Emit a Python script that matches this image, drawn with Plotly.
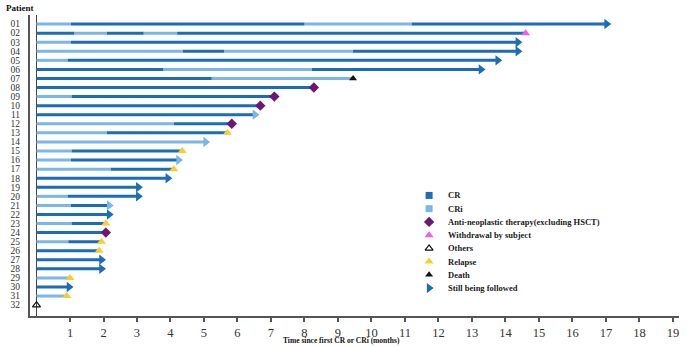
import plotly.graph_objects as go

patients = ["%02d" % i for i in range(1, 33)]

# breakpoints (months) and state of each segment: C = CR (dark), I = CRi (light)
bounds = [
    [0, 1.03, 8.0, 11.2, 17.15],
    [0, 1.12, 2.1, 3.2, 4.2, 14.6],
    [0, 1.03, 14.5],
    [0, 4.37, 5.6, 9.45, 14.5],
    [0, 0.93, 13.9],
    [0, 3.78, 8.22, 13.4],
    [0, 5.23, 9.45],
    [0, 8.28],
    [0, 1.05, 7.1],
    [0, 6.68],
    [0, 6.65],
    [0, 4.1, 5.83],
    [0, 2.1, 5.7],
    [0, 5.18],
    [0, 1.05, 4.35],
    [0, 1.03, 4.37],
    [0, 2.22, 4.1],
    [0, 4.05],
    [0, 3.17],
    [0, 0.93, 3.17],
    [0, 1.03, 2.3],
    [0, 2.3],
    [0, 1.05, 2.07],
    [0, 2.07],
    [0, 0.95, 1.94],
    [0, 1.87],
    [0, 2.07],
    [0, 2.07],
    [0, 1.0],
    [0, 1.1],
    [0, 0.9],
    [0],
]
states = ["ICIC", "CICIC", "IC", "ICIC", "IC", "CIC", "CI", "C", "IC", "C", "C", "IC", "IC", "I",
          "IC", "IC", "IC", "C", "C", "IC", "IC", "C", "IC", "C", "IC", "C", "C", "C", "I", "C", "I", ""]
# end events: F followed, W withdrawal, D death, A anti-neoplastic, R relapse, O others
events = ["F", "W", "F", "F", "F", "F", "D", "A", "A", "A", "F", "A", "R", "F", "R", "F",
          "R", "F", "F", "F", "F", "F", "R", "A", "R", "R", "F", "F", "R", "F", "R", "O"]
arrow_state = ["C", "", "C", "C", "C", "C", "", "", "", "", "I", "", "", "I", "", "I",
               "", "C", "C", "C", "I", "C", "", "", "", "", "C", "C", "", "C", "", ""]

legend_labels = ["CR", "CRi", "Anti-neoplastic therapy(excluding HSCT)", "Withdrawal by subject",
                 "Others", "Relapse", "Death", "Still being followed"]
x_ticks = list(range(1, 20))

DARK = "#1b6db6"
LIGHT = "#7ab6e6"
PURPLE = "#6c1676"
PINK = "#ec5fec"
YELLOW = "#f5cf2c"
BLACK = "#111111"
SERIF = "Liberation Serif"
ARROW_OFF = 0.13

fig = go.Figure()

seg = {"C": ([], []), "I": ([], [])}
for i, (b, s, ev) in enumerate(zip(bounds, states, events)):
    row = i + 1
    for k, st in enumerate(s):
        x0, x1 = b[k], b[k + 1]
        if ev == "F" and k == len(s) - 1:
            x1 = x1 - ARROW_OFF
        seg[st][0].extend([x0, x1, None])
        seg[st][1].extend([row, row, None])

fig.add_trace(go.Scatter(x=seg["I"][0], y=seg["I"][1], mode="lines",
                         line=dict(color=LIGHT, width=3), hoverinfo="skip", showlegend=False))
fig.add_trace(go.Scatter(x=seg["C"][0], y=seg["C"][1], mode="lines",
                         line=dict(color=DARK, width=3), hoverinfo="skip", showlegend=False))

styles = {
    "A": dict(symbol="diamond", color=PURPLE, size=8),
    "W": dict(symbol="triangle-up", color=PINK, size=8),
    "R": dict(symbol="triangle-up", color=YELLOW, size=8),
    "D": dict(symbol="triangle-up", color=BLACK, size=7),
    "O": dict(symbol="triangle-up-open", color=BLACK, size=7),
}
for code, st in styles.items():
    xs = [b[-1] for b, e in zip(bounds, events) if e == code]
    ys = [i + 1 for i, e in enumerate(events) if e == code]
    fig.add_trace(go.Scatter(x=xs, y=ys, mode="markers", hoverinfo="skip", showlegend=False,
                             marker=dict(symbol=st["symbol"], color=st["color"], size=st["size"],
                                         line=dict(width=1.2 if code == "O" else 0, color=st["color"]))))

for a_st, col in (("C", DARK), ("I", LIGHT)):
    xs = [b[-1] - ARROW_OFF for b, e, a in zip(bounds, events, arrow_state) if e == "F" and a == a_st]
    ys = [i + 1 for i, (e, a) in enumerate(zip(events, arrow_state)) if e == "F" and a == a_st]
    fig.add_trace(go.Scatter(x=xs, y=ys, mode="markers", hoverinfo="skip", showlegend=False,
                             marker=dict(symbol="triangle-right", color=col, size=9, line=dict(width=0))))

# legend drawn inside the plot area
leg_x = 11.72
leg_y0 = 19.9
leg_dy = 1.46
leg_syms = [("square", DARK, 7), ("square", LIGHT, 7), ("diamond", PURPLE, 8), ("triangle-up", PINK, 8),
            ("triangle-up-open", BLACK, 7), ("triangle-up", YELLOW, 8), ("triangle-up", BLACK, 7),
            ("triangle-right", DARK, 9)]
for k, (lab, (sym, col, sz)) in enumerate(zip(legend_labels, leg_syms)):
    yy = leg_y0 + k * leg_dy
    fig.add_trace(go.Scatter(x=[leg_x], y=[yy], mode="markers", hoverinfo="skip", showlegend=False,
                             marker=dict(symbol=sym, color=col, size=sz,
                                         line=dict(width=1.2 if "open" in sym else 0, color=col))))
    fig.add_annotation(x=leg_x + 0.5, y=yy, text="<b>%s</b>" % lab, showarrow=False,
                       xanchor="left", yanchor="middle",
                       font=dict(family=SERIF, size=8.5, color="#222"))

fig.add_shape(type="line", x0=0, x1=0, y0=0, y1=33.2, xref="x", yref="y",
              line=dict(color="#444", width=1), layer="below")

fig.add_annotation(x=-0.015, y=1.0, xref="paper", yref="paper", text="<b>Patient</b>",
                   showarrow=False, xanchor="center", yanchor="bottom",
                   font=dict(family=SERIF, size=9, color="#111"))
fig.add_annotation(x=0.48, y=-0.104, xref="paper", yref="paper",
                   text="<b>Time since first CR or CRi (months)</b>", showarrow=False,
                   xanchor="center", yanchor="bottom", font=dict(family=SERIF, size=7.5, color="#111"))

fig.update_layout(
    width=699, height=347, margin=dict(l=30, r=20, t=15, b=31),
    plot_bgcolor="white", paper_bgcolor="white",
    xaxis=dict(range=[-0.194, 19.18], tickvals=x_ticks, ticktext=[str(t) for t in x_ticks],
               showgrid=False, zeroline=False, showline=True, linecolor="#555", linewidth=2,
               ticks="outside", ticklen=4, tickcolor="#555", tickwidth=1.5, ticklabelstandoff=0,
               automargin=False,
               tickfont=dict(family=SERIF, size=12.5, color="#333")),
    yaxis=dict(range=[33.2, 0.0], tickvals=list(range(1, 33)), ticktext=patients,
               showgrid=False, zeroline=False, showline=True, linecolor="#555", linewidth=2,
               ticks="", ticklabelstandoff=6, automargin=False,
               tickfont=dict(family=SERIF, size=9.5, color="#333")),
)

fig.write_html("out.html")
